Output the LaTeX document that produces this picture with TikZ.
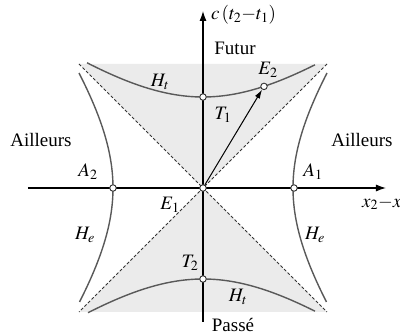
\documentclass[tikz,border=0pt]{standalone}
\usepackage{mathptmx}
\usepackage[no-math]{fontspec}
\setmainfont{Liberation Serif}
\usetikzlibrary{arrows.meta}
\begin{document}
\begin{tikzpicture}[x=1pt,y=1pt,
  curve/.style={draw=black!65, line width=1.4pt},
  axis/.style={draw=black, line width=1.1pt, -{Latex[length=10pt,width=7pt]}},
  cone/.style={densely dashed, line width=0.8pt, draw=black!80},
  pt/.style={circle, draw=black!80, fill=white, line width=0.9pt, inner sep=0pt, minimum size=6.5pt},
  lbl/.style={font=\fontsize{19}{22}\selectfont, inner sep=0pt}]
\useasboundingbox (-203,-146) rectangle (197,188);
\fill[black!8] (0,0) -- (-124,124) -- (124,124) -- cycle;
\fill[black!8] (0,0) -- (-124,-124) -- (124,-124) -- cycle;
\coordinate (c1) at (-124,124);
\coordinate (c2) at (124,-124);
\coordinate (c3) at (124,124);
\coordinate (c4) at (-124,-124);
\draw[cone] (c1) -- (c2);
\draw[cone] (c3) -- (c4);
\coordinate (xl) at (-175,0);
\coordinate (xr) at (183,0);
\coordinate (yb) at (0,-134);
\coordinate (yt) at (0,177);
\draw[axis] (xl) -- (xr);
\draw[axis] (yb) -- (yt);
\draw[curve] plot[domain=-116:112, samples=60, smooth] (\x,{10*sqrt(82.81+0.55*(\x/10)^2)});
\draw[curve] plot[domain=-115:112, samples=60, smooth] (\x,{-10*sqrt(82.81+0.55*(\x/10)^2)});
\draw[curve] plot[domain=-114:115, samples=60, smooth] ({10*sqrt(81+0.55*(\x/10)^2)},\x);
\draw[curve] plot[domain=-114:115, samples=60, smooth] ({-10*sqrt(81+0.55*(\x/10)^2)},\x);
\node[pt] (E1) at (0,0) {};
\node[pt] (T1) at (0,91) {};
\node[pt] (T2) at (0,-91) {};
\node[pt] (A1) at (91,0) {};
\node[pt] (A2) at (-90,0) {};
\node[pt] (E2) at (61,101.6) {};
\draw[line width=1pt, -{Latex[length=9pt,width=5.5pt]}] (E1) -- (E2);
\node[lbl, anchor=west] (ct) at (8,173) {$c\,(t_2{-}t_1)$};
\node[lbl] (fut) at (32,140) {Futur};
\node[lbl] (ht1) at (-43,106) {$H_t$};
\node[lbl] (le2) at (65,118) {$E_2$};
\node[lbl] (lt1) at (20,73) {$T_1$};
\node[lbl] (ail1) at (-162,48) {Ailleurs};
\node[lbl] (ail2) at (159,48) {Ailleurs};
\node[lbl] (la2) at (-115,16) {$A_2$};
\node[lbl] (la1) at (110,16) {$A_1$};
\node[lbl] (le1) at (-33,-17) {$E_1$};
\node[lbl, anchor=west] (xx) at (159,-15) {$x_2{-}x_1$};
\node[lbl] (he1) at (-118,-47) {$H_e$};
\node[lbl] (he2) at (112,-47) {$H_e$};
\node[lbl] (lt2) at (-13,-75) {$T_2$};
\node[lbl] (ht2) at (35,-109) {$H_t$};
\node[lbl] (pas) at (30,-137) {Passé};
\end{tikzpicture}
\end{document}
